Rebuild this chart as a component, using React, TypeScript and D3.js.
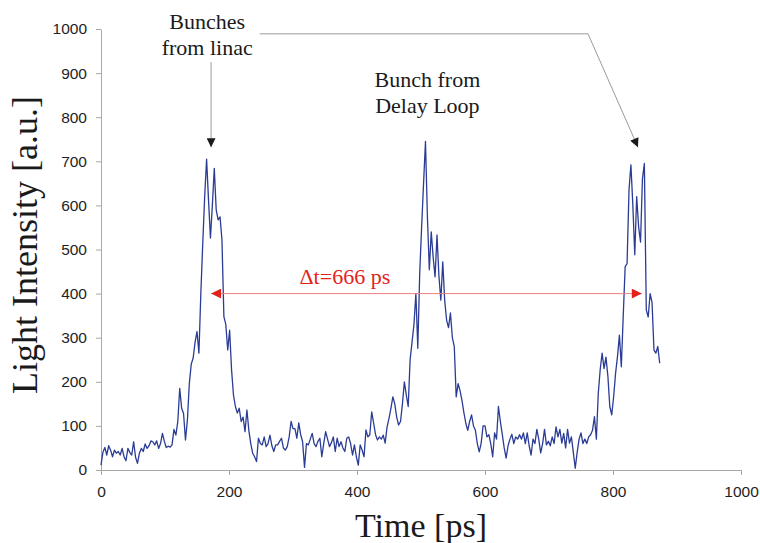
import React, { useRef, useEffect } from 'react';
import * as d3 from 'd3';

// sample spacing of the streak camera trace
const TIME_STEP = 3; // ps

// light intensity, 0 - 297 ps (bunch from linac)
const sweepLinac = [
  11, 40, 51, 34, 55, 45, 30, 45, 38, 42,
  34, 49, 30, 21, 49, 40, 34, 64, 29, 15,
  38, 49, 42, 59, 49, 55, 66, 64, 57, 66,
  49, 60, 83, 65, 51, 54, 52, 57, 92, 79,
  110, 185, 140, 128, 68, 113, 196, 240, 254, 290,
  314, 265, 401, 514, 620, 705, 612, 526, 600, 684,
  590, 567, 574, 522, 348, 330, 272, 317, 227, 170,
  144, 129, 140, 110, 120, 87, 136, 90, 60, 38,
  30, 19, 72, 60, 57, 75, 53, 60, 79, 55,
  42, 57, 57, 65, 72, 50, 45, 53, 75, 110,
];

// 300 - 597 ps (bunch from delay loop)
const sweepLoop = [
  94, 94, 72, 107, 80, 64, 6, 60, 57, 70,
  83, 60, 53, 65, 72, 30, 60, 87, 70, 53,
  62, 75, 42, 72, 53, 64, 50, 42, 72, 75,
  60, 34, 57, 30, 11, 57, 45, 30, 91, 75,
  80, 132, 106, 80, 68, 75, 70, 79, 61, 98,
  117, 140, 166, 150, 120, 102, 110, 150, 200, 170,
  144, 250, 290, 330, 400, 276, 446, 552, 650, 745,
  575, 454, 540, 482, 438, 533, 440, 385, 472, 385,
  340, 323, 356, 300, 280, 166, 196, 180, 158, 130,
  106, 90, 110, 125, 100, 90, 60, 41, 61, 100,
];

// 600 - 873 ps (next bunch from linac)
const sweepReturn = [
  100, 75, 80, 60, 30, 84, 70, 144, 110, 81,
  50, 27, 55, 70, 81, 60, 75, 70, 80, 70,
  84, 60, 84, 55, 34, 70, 60, 92, 70, 39,
  60, 92, 57, 65, 55, 75, 60, 98, 75, 92,
  61, 83, 50, 92, 61, 75, 40, 4, 40, 70,
  84, 60, 70, 60, 75, 80, 90, 121, 70, 174,
  228, 265, 230, 256, 213, 144, 125, 166, 219, 257,
  306, 234, 350, 461, 468, 635, 692, 600, 488, 620,
  552, 517, 660, 695, 363, 347, 400, 380, 272, 265,
  280, 242,
];

const xTicks = [0, 200, 400, 600, 800, 1000];
const yTicks = [0, 100, 200, 300, 400, 500, 600, 700, 800, 900, 1000];

// annotation anchors in data units [ps, a.u.]
const linacArrowTop = [172, 925];
const linacArrowTip = [172, 732];
const returnArrowPath = [[248, 989], [761, 989], [839, 732]];
const deltaT = { from: 172, to: 845, level: 400, label: '\u0394t=666 ps' };

const width = 760;
const height = 543;
const margin = { top: 29, right: 19, bottom: 73, left: 101 };

const SERIF = '"Liberation Serif", "Times New Roman", serif';

function LightTrace() {
  const svgRef = useRef(null);

  useEffect(() => {
    const data = [...sweepLinac, ...sweepLoop, ...sweepReturn].map((v, i) => ({ t: i * TIME_STEP, v }));

    const svgEl = d3.select(svgRef.current);
    svgEl.selectAll('*').remove();

    const w = width - margin.left - margin.right;
    const h = height - margin.top - margin.bottom;

    const xScale = d3.scaleLinear().domain([0, 1000]).range([0, w]);
    const yScale = d3.scaleLinear().domain([0, 1000]).range([h, 0]);

    const defs = svgEl.append('defs');
    const addMarker = (id, color, len, wid) => {
      defs
        .append('marker')
        .attr('id', id)
        .attr('viewBox', '0 0 10 10')
        .attr('refX', 10)
        .attr('refY', 5)
        .attr('markerUnits', 'userSpaceOnUse')
        .attr('markerWidth', len)
        .attr('markerHeight', wid)
        .attr('orient', 'auto-start-reverse')
        .append('path')
        .attr('d', 'M0,0 L10,5 L0,10 z')
        .attr('fill', color);
    };
    addMarker('blackHead', '#1a1a1a', 11, 9);
    addMarker('redHead', '#e3231b', 13, 10);

    const svg = svgEl.append('g').attr('transform', `translate(${margin.left},${margin.top})`);

    const fmt = d3.format('d');
    const xAxis = d3.axisBottom(xScale).tickValues(xTicks).tickFormat(fmt).tickSize(5).tickSizeOuter(0);
    const xAxisGroup = svg.append('g').attr('transform', `translate(0, ${h})`).call(xAxis);

    const yAxis = d3.axisLeft(yScale).tickValues(yTicks).tickFormat(fmt).tickSize(5).tickSizeOuter(0).tickPadding(9);
    const yAxisGroup = svg.append('g').call(yAxis);

    [xAxisGroup, yAxisGroup].forEach((g) => {
      g.select('.domain').attr('stroke', '#a8a8a8');
      g.selectAll('line').attr('stroke', '#a8a8a8');
      g.selectAll('text')
        .attr('font-family', '"Liberation Sans", Arial, sans-serif')
        .attr('font-size', '15.5px')
        .attr('fill', '#1e1e1e');
    });
    xAxisGroup.selectAll('text').attr('y', 16);

    // axis titles
    svg
      .append('text')
      .attr('x', w / 2)
      .attr('y', h + 67)
      .attr('text-anchor', 'middle')
      .attr('font-family', SERIF)
      .attr('font-size', '34px')
      .attr('fill', '#1a1a1a')
      .text('Time [ps]');

    svgEl
      .append('text')
      .attr('transform', `translate(37, 245) rotate(-90)`)
      .attr('text-anchor', 'middle')
      .attr('font-family', SERIF)
      .attr('font-size', '36px')
      .attr('fill', '#1a1a1a')
      .text('Light Intensity [a.u.]');

    // the trace
    const line = d3.line().x((d) => xScale(d.t)).y((d) => yScale(d.v));
    svg
      .append('path')
      .datum(data)
      .attr('fill', 'none')
      .attr('stroke', '#2b3c95')
      .attr('stroke-width', 1.3)
      .attr('stroke-linejoin', 'round')
      .attr('d', line);

    // bunch arrows
    const annLine = d3.line().x((d) => xScale(d[0])).y((d) => yScale(d[1]));
    svg
      .append('path')
      .attr('d', annLine([linacArrowTop, linacArrowTip]))
      .attr('fill', 'none')
      .attr('stroke', '#9a9a9a')
      .attr('stroke-width', 1)
      .attr('marker-end', 'url(#blackHead)');
    svg
      .append('path')
      .attr('d', annLine(returnArrowPath))
      .attr('fill', 'none')
      .attr('stroke', '#9a9a9a')
      .attr('stroke-width', 1)
      .attr('marker-end', 'url(#blackHead)');

    // delta t arrow
    svg
      .append('line')
      .attr('x1', xScale(deltaT.from))
      .attr('x2', xScale(deltaT.to))
      .attr('y1', yScale(deltaT.level))
      .attr('y2', yScale(deltaT.level))
      .attr('stroke', '#ef7f7f')
      .attr('stroke-width', 1)
      .attr('marker-start', 'url(#redHead)')
      .attr('marker-end', 'url(#redHead)');
    svg
      .append('text')
      .attr('x', xScale(381))
      .attr('y', yScale(deltaT.level) - 10)
      .attr('text-anchor', 'middle')
      .attr('font-family', SERIF)
      .attr('font-size', '22px')
      .attr('fill', '#e3231b')
      .text(deltaT.label);

    // labels
    const labels = [
      { x: 166, y: 1000, lines: ['Bunches', 'from linac'] },
      { x: 510, y: 868, lines: ['Bunch from', 'Delay Loop'] },
    ];
    labels.forEach((lb) => {
      const t = svg
        .append('text')
        .attr('text-anchor', 'middle')
        .attr('font-family', SERIF)
        .attr('font-size', '22px')
        .attr('fill', '#1a1a1a');
      lb.lines.forEach((s, i) => {
        t.append('tspan')
          .attr('x', xScale(lb.x))
          .attr('y', yScale(lb.y) + i * 26)
          .attr('font-family', SERIF)
          .text(s);
      });
    });
  }, []);

  return (
    <svg
      ref={svgRef}
      width={width}
      height={height}
      style={{ position: 'absolute', left: 0, top: 0, background: '#fff' }}
    />
  );
}

export default function App() {
  return <LightTrace />;
}
